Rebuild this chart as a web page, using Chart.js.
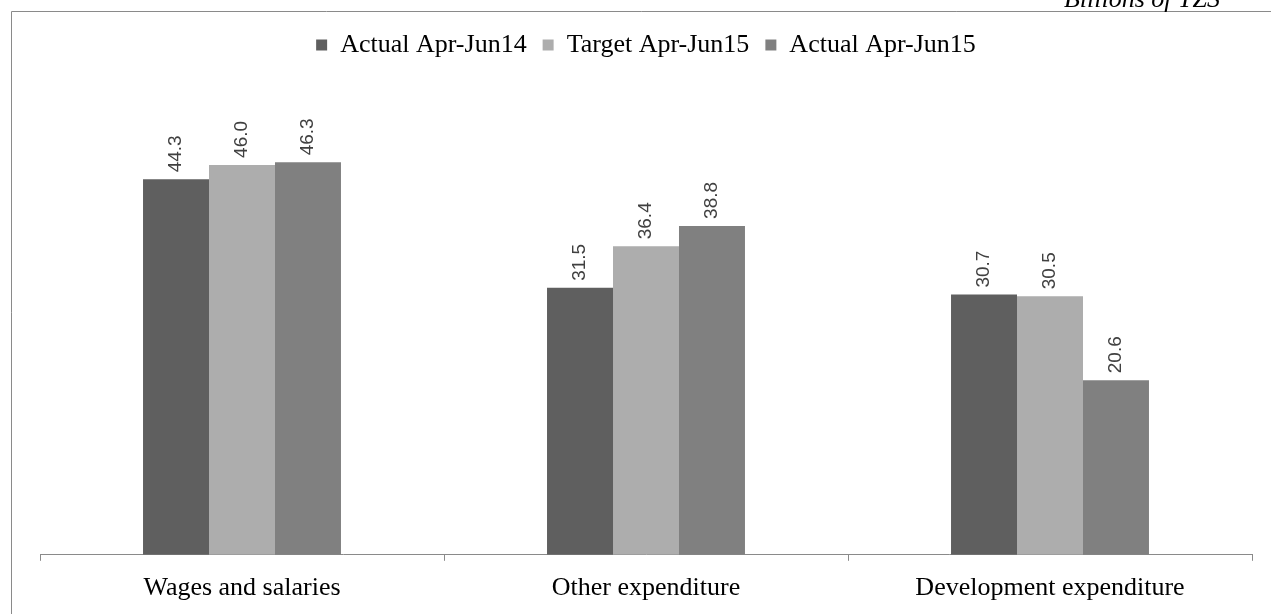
<!DOCTYPE html>
<html>
<head>
<meta charset="utf-8">
<script src="https://cdn.jsdelivr.net/npm/chart.js@4"></script>
<style>
  html, body { margin: 0; padding: 0; background: #fff; }
  #wrap { width: 1271px; height: 614px; position: relative; }
</style>
</head>
<body>
<div id="wrap"><canvas id="barChart" width="1271" height="614"></canvas></div>
<script>
// データ
const categories = ['Wages and salaries', 'Other expenditure', 'Development expenditure'];
const seriesNames = ['Actual Apr-Jun14', 'Target Apr-Jun15', 'Actual Apr-Jun15'];
const actual14 = [44.3, 31.5, 30.7];
const target15 = [46.0, 36.4, 30.5];
const actual15 = [46.3, 38.8, 20.6];
const unitLabel = 'Billions of TZS';

const colors = ['#5f5f5f', '#adadad', '#808080'];

// 枠線と単位
const framePlugin = {
    id: 'frame',
    beforeDraw(chart) {
        const c = chart.ctx;
        c.save();
        c.fillStyle = '#fff';
        c.fillRect(0, 0, chart.width, chart.height);
        c.strokeStyle = '#8a8a8a';
        c.lineWidth = 1;
        c.beginPath();
        c.moveTo(11.5, chart.height);
        c.lineTo(11.5, 11.5);
        c.lineTo(chart.width, 11.5);
        c.stroke();
        c.fillStyle = '#000';
        c.font = 'italic 26px "Liberation Serif"';
        c.textAlign = 'right';
        c.textBaseline = 'alphabetic';
        c.fillText(unitLabel, 1220, 7);
        c.restore();
    }
};

// 凡例の下に余白を足す
const legendSpacer = {
    id: 'legendSpacer',
    beforeInit(chart) {
        const fit = chart.legend.fit;
        chart.legend.fit = function () {
            fit.bind(chart.legend)();
            this.height += 63;
        };
    }
};

// 棒の上に縦書きの数値
const valueLabels = {
    id: 'valueLabels',
    afterDatasetsDraw(chart) {
        const c = chart.ctx;
        c.save();
        c.fillStyle = '#404040';
        c.font = '19px "Liberation Sans"';
        c.textAlign = 'left';
        c.textBaseline = 'middle';
        chart.data.datasets.forEach((ds, i) => {
            chart.getDatasetMeta(i).data.forEach((bar, j) => {
                c.save();
                c.translate(bar.x, bar.y - 7);
                c.rotate(-Math.PI / 2);
                c.fillText(ds.data[j].toFixed(1), 0, 0);
                c.restore();
            });
        });
        c.restore();
    }
};

const ctx = document.getElementById('barChart').getContext('2d');
new Chart(ctx, {
    type: 'bar',
    data: {
        labels: categories,
        datasets: [
            { label: seriesNames[0], data: actual14, backgroundColor: colors[0] },
            { label: seriesNames[1], data: target15, backgroundColor: colors[1] },
            { label: seriesNames[2], data: actual15, backgroundColor: colors[2] }
        ]
    },
    options: {
        responsive: false,
        animation: false,
        devicePixelRatio: 1,
        categoryPercentage: 0.49,
        barPercentage: 1.0,
        layout: { padding: { left: 40, right: 19, top: 16, bottom: -2 } },
        plugins: {
            tooltip: { enabled: false },
            legend: {
                position: 'top',
                labels: {
                    font: { family: '"Liberation Serif"', size: 26 },
                    color: '#000',
                    usePointStyle: true,
                    pointStyle: 'rect',
                    boxWidth: 11,
                    boxHeight: 11,
                    padding: 16
                }
            }
        },
        scales: {
            x: {
                grid: { display: true, drawOnChartArea: false, tickLength: 6, color: '#8a8a8a', offset: true },
                border: { display: true, color: '#8a8a8a' },
                ticks: { font: { family: '"Liberation Serif"', size: 26 }, color: '#000', padding: 12 }
            },
            y: {
                display: false,
                min: 0,
                max: 50
            }
        }
    },
    plugins: [framePlugin, legendSpacer, valueLabels]
});
</script>
</body>
</html>
